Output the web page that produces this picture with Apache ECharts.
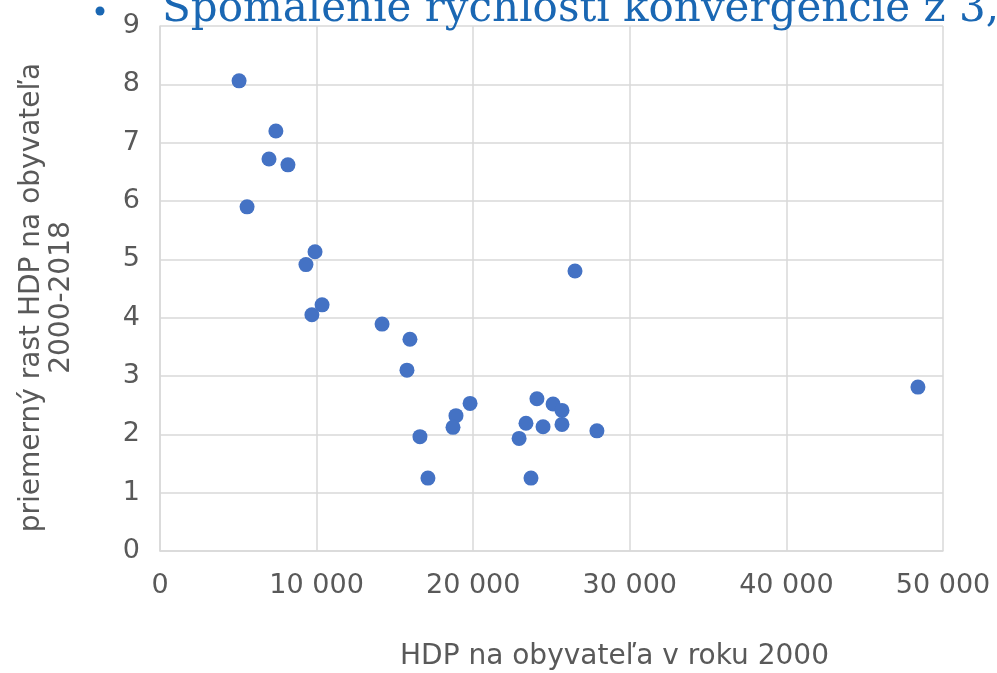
<!DOCTYPE html>
<html><head><meta charset="utf-8">
<script src="https://cdn.jsdelivr.net/npm/echarts@6/dist/echarts.min.js"></script>
<style>html,body{margin:0;padding:0;background:#fff}#c{width:997px;height:673px}</style>
</head><body><div id="c"></div>
<script>
const titleText = 'Spomalenie rýchlosti konvergencie z 3,';
const xAxisName = 'HDP na obyvateľa v roku 2000';
const yAxisName = 'priemerný rast HDP na obyvateľa\n2000-2018';
const gdp2000 = [5050, 7400, 6960, 8170, 5560, 9900, 9320, 10350, 9700, 14180, 15960, 15770, 19800, 18900, 18710, 16600, 17110, 24070, 25100, 25670, 23370, 24460, 25670, 22930, 23690, 27900, 26500, 48400];
const growth  = [8.06, 7.20, 6.72, 6.62, 5.90, 5.13, 4.91, 4.22, 4.05, 3.89, 3.63, 3.10, 2.53, 2.32, 2.12, 1.96, 1.25, 2.61, 2.52, 2.41, 2.19, 2.13, 2.17, 1.93, 1.25, 2.06, 4.80, 2.81];
const points = gdp2000.map((x, i) => [x, growth[i]]);
const fmt = v => v === 0 ? '0' : String(v).replace(/\B(?=(\d{3})+(?!\d))/g, ' ');
const chart = echarts.init(document.getElementById('c'));
chart.setOption({
  animation: false,
  textStyle: {fontFamily: 'DejaVu Sans'},
  graphic: [
    {type: 'circle', shape: {cx: 100, cy: 11, r: 4.5}, style: {fill: '#1a67b3'}, z: 10},
    {type: 'text', left: 162, top: -11, style: {text: titleText, font: '42px "DejaVu Serif"', fill: '#1a67b3'}, z: 10}
  ],
  grid: {left: 160, right: 54, top: 26, bottom: 122, containLabel: false, outerBoundsMode: 'none'},
  xAxis: {
    type: 'value', min: 0, max: 50000, interval: 10000,
    name: xAxisName, nameLocation: 'middle', nameGap: 92,
    nameTextStyle: {fontSize: 28, color: '#595959', fontFamily: 'DejaVu Sans', padding: [0, 0, 0, 126]},
    axisLine: {show: true, lineStyle: {color: '#d9d9d9', width: 1.5}},
    axisTick: {show: false},
    axisLabel: {fontSize: 27, color: '#595959', margin: 21, formatter: fmt},
    splitLine: {lineStyle: {color: '#d9d9d9', width: 1.5}}
  },
  yAxis: {
    type: 'value', min: 0, max: 9, interval: 1,
    name: yAxisName, nameLocation: 'middle', nameGap: 83, nameRotate: 90,
    nameTextStyle: {fontSize: 28, color: '#595959', fontFamily: 'DejaVu Sans', lineHeight: 30, padding: [0, 18, 0, 0]},
    axisLine: {show: true, lineStyle: {color: '#d9d9d9', width: 1.5}},
    axisTick: {show: false},
    axisLabel: {fontSize: 27, color: '#595959', margin: 20},
    splitLine: {lineStyle: {color: '#d9d9d9', width: 1.5}}
  },
  series: [{
    type: 'scatter', data: points, symbol: 'circle', symbolSize: 15,
    itemStyle: {color: '#4472c4', opacity: 1}
  }]
});
</script></body></html>
